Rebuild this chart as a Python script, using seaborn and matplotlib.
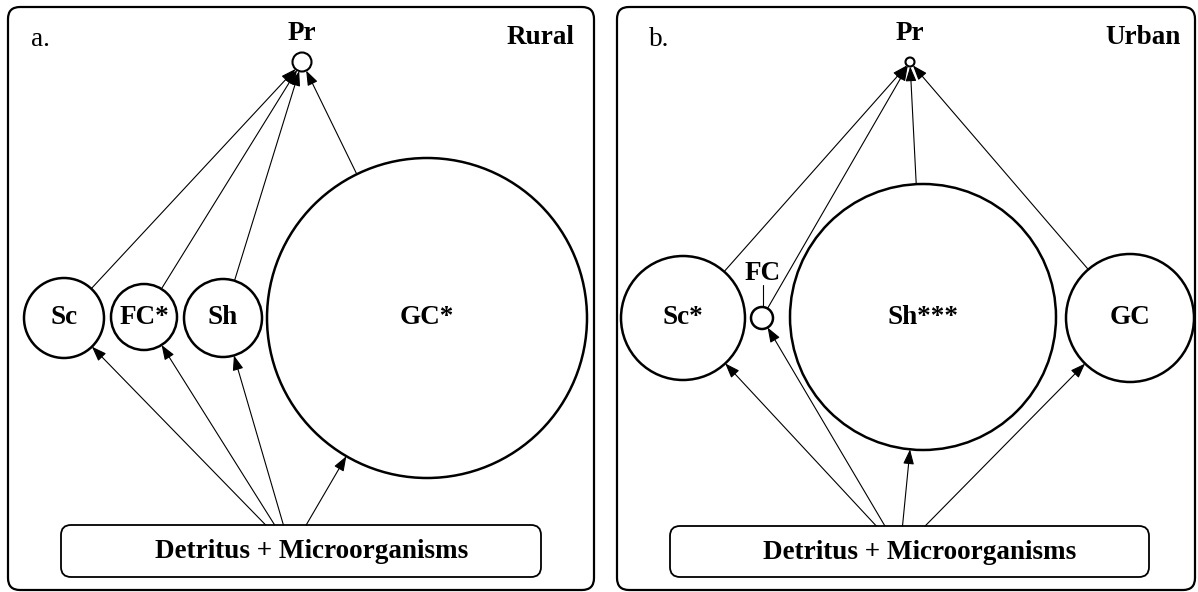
import numpy as np
import matplotlib
matplotlib.use("Agg")
import matplotlib.pyplot as plt
from matplotlib.patches import Circle, FancyBboxPatch, FancyArrowPatch
import seaborn as sns

# ---- data (figure pixel units, y grows downward) ----
panel_tags = ["a.", "b."]
panel_sites = ["Rural", "Urban"]

rural_groups = ["Sc", "FC*", "Sh", "GC*"]
rural_x = [64, 144, 223, 427]
rural_y = [318, 317, 318, 318]
rural_r = [40, 33, 39, 160]

urban_groups = ["Sc*", "FC", "Sh***", "GC"]
urban_x = [683, 762, 923, 1130]
urban_y = [318, 318, 317, 318]
urban_r = [62, 11, 133, 64]

pred_label = "Pr"
pred_x = [302, 910]
pred_y = [62, 62]
pred_r = [9.5, 4.5]

base_label = "Detritus + Microorganisms"
base_left = [61, 670]
base_right = [541, 1149]
base_top = [525, 526]
base_bottom = [577, 577]
base_src_x = [291, 900]
base_text_x = [312, 920]

frame_left = [8, 617]
frame_right = [594, 1195]
frame_top = 7
frame_bottom = 590

sns.set_theme(style="white")
plt.rcParams["font.family"] = ["Liberation Serif", "DejaVu Serif"]
plt.rcParams["text.color"] = "black"

fig = plt.figure(figsize=(11.98, 5.92), dpi=100)
ax = fig.add_axes([0, 0, 1, 1])
ax.set_xlim(0, 1198)
ax.set_ylim(592, 0)
ax.axis("off")

FS = 19.5
arrow_kw = dict(arrowstyle="-|>,head_length=0.6,head_width=0.22",
                mutation_scale=15, color="black", lw=0.8,
                shrinkA=0, shrinkB=0, zorder=3)


def unit(x0, y0, x1, y1):
    d = np.array([x1 - x0, y1 - y0], dtype=float)
    return d / np.hypot(*d)


panels = [
    (rural_groups, rural_x, rural_y, rural_r),
    (urban_groups, urban_x, urban_y, urban_r),
]

for i, (groups, gx, gy, gr) in enumerate(panels):
    # outer rounded frame
    ax.add_patch(FancyBboxPatch(
        (frame_left[i], frame_top), frame_right[i] - frame_left[i],
        frame_bottom - frame_top,
        boxstyle="round,pad=0,rounding_size=12",
        fc="white", ec="black", lw=1.6, zorder=1))

    ax.text(frame_left[i] + 23 + (9 if i else 0), 40, panel_tags[i],
            fontsize=FS, ha="left", va="center")
    ax.text(frame_right[i] - 20 + (6 if i else 0), 38, panel_sites[i],
            fontsize=FS, fontweight="bold", ha="right", va="center")

    # predator node
    px, py, pr = pred_x[i], pred_y[i], pred_r[i]
    ax.add_patch(Circle((px, py), pr, fc="white", ec="black", lw=1.5, zorder=4))
    ax.text(px, 33, pred_label, fontsize=FS, fontweight="bold",
            ha="center", va="center")

    # detritus box
    ax.add_patch(FancyBboxPatch(
        (base_left[i], base_top[i]), base_right[i] - base_left[i],
        base_bottom[i] - base_top[i],
        boxstyle="round,pad=0,rounding_size=10",
        fc="white", ec="black", lw=1.3, zorder=2))
    ax.text(base_text_x[i], (base_top[i] + base_bottom[i]) / 2 + 1, base_label,
            fontsize=FS, fontweight="bold", ha="center", va="center")
    sx, sy = base_src_x[i], (base_top[i] + base_bottom[i]) / 2

    for name, x, y, r in zip(groups, gx, gy, gr):
        ax.add_patch(Circle((x, y), r, fc="white", ec="black", lw=1.8, zorder=2))
        if r < 20:
            ax.text(x + 1, y - r - 34, name, fontsize=FS, fontweight="bold",
                    ha="center", va="center")
            ax.plot([x + 1, x + 1], [y - r - 22, y - r], color="black", lw=0.8)
        else:
            ax.text(x, y, name, fontsize=FS, fontweight="bold",
                    ha="center", va="center")

        # consumer -> predator
        u = unit(x, y, px, py)
        start = (x + r * u[0], y + r * u[1])
        end = (px - pr * u[0], py - pr * u[1])
        ax.add_patch(FancyArrowPatch(start, end, **arrow_kw))

        # detritus -> consumer
        v = unit(sx, sy, x, y)
        t = (base_top[i] - sy) / v[1]
        start = (sx + t * v[0], base_top[i])
        end = (x - r * v[0], y - r * v[1])
        ax.add_patch(FancyArrowPatch(start, end, **arrow_kw))

fig.savefig("out.png", dpi=100)
